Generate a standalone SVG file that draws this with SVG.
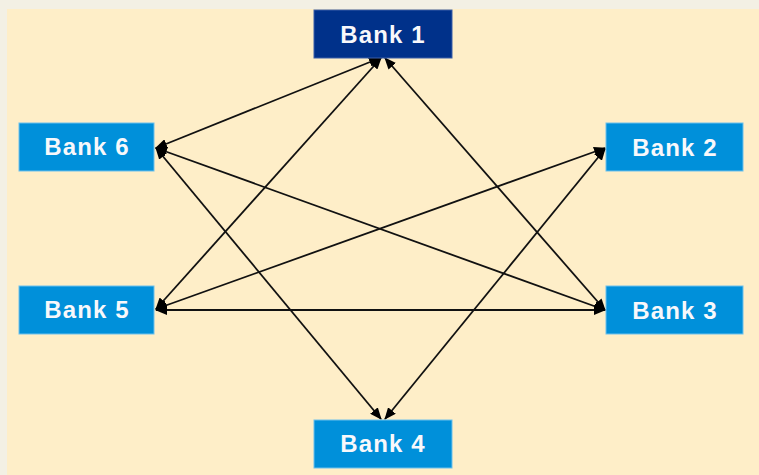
<svg xmlns="http://www.w3.org/2000/svg" width="759" height="475" viewBox="0 0 759 475">
<defs>
<style>
.bank{fill:#0090da;stroke:#6cc0ec;stroke-width:1}
.bank1{fill:#00318a;stroke:#3a5ea8;stroke-width:1}
.lbl{font-family:"Liberation Sans",Arial,sans-serif;font-weight:bold;font-size:24px;letter-spacing:1.1px;fill:#f8f8fb;text-anchor:middle}
.con{stroke:#111111;stroke-width:1.8;fill:none;marker-start:url(#ah);marker-end:url(#ah)}
</style>
<marker id="ah" viewBox="0 0 12 10" refX="11" refY="5" markerWidth="12" markerHeight="10" markerUnits="userSpaceOnUse" orient="auto-start-reverse">
<path d="M0,0 L12,5 L0,10 Z" fill="#000000"/>
</marker>
</defs>
<rect x="0" y="0" width="759" height="475" fill="#f3f0e4"/>
<rect x="7" y="9" width="752" height="466" fill="#feeec8"/>
<g id="connectors">
<line class="con" x1="380" y1="58" x2="156" y2="148"/>
<line class="con" x1="381" y1="58" x2="156" y2="309"/>
<line class="con" x1="385" y1="58" x2="605" y2="310"/>
<line class="con" x1="156" y1="148" x2="605" y2="310"/>
<line class="con" x1="156" y1="148" x2="381" y2="419"/>
<line class="con" x1="156" y1="309" x2="605" y2="148"/>
<line class="con" x1="156" y1="310" x2="605" y2="310"/>
<line class="con" x1="605" y1="149" x2="385" y2="419"/>
</g>
<g id="bank1"><rect class="bank1" x="314" y="10" width="138" height="48"/><text class="lbl" x="383" y="43">Bank 1</text></g>
<g id="bank2"><rect class="bank" x="606" y="123" width="137" height="48"/><text class="lbl" x="675" y="156">Bank 2</text></g>
<g id="bank3"><rect class="bank" x="606" y="286" width="137" height="48"/><text class="lbl" x="675" y="319">Bank 3</text></g>
<g id="bank4"><rect class="bank" x="314" y="420" width="138" height="48"/><text class="lbl" x="383" y="452">Bank 4</text></g>
<g id="bank5"><rect class="bank" x="19" y="286" width="135" height="48"/><text class="lbl" x="87" y="318">Bank 5</text></g>
<g id="bank6"><rect class="bank" x="19" y="123" width="135" height="48"/><text class="lbl" x="87" y="155">Bank 6</text></g>
</svg>
